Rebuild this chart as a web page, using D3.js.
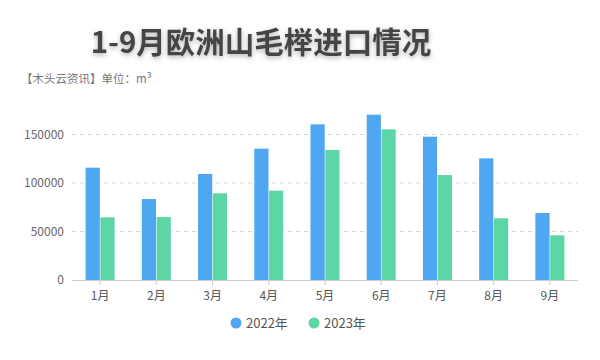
<!DOCTYPE html>
<html><head><meta charset="utf-8">
<script src="https://cdn.jsdelivr.net/npm/d3@7/dist/d3.min.js"></script>
<style>
html,body{margin:0;padding:0;background:#fff;}
svg{display:block;font-family:"Microsoft YaHei","Noto Sans CJK SC",sans-serif;}
</style></head>
<body><svg id="c" width="600" height="360"></svg>
<script>
const categories = ["1月","2月","3月","4月","5月","6月","7月","8月","9月"];
const seriesNames = ["2022年","2023年"];
const values2022 = [115800, 83500, 109300, 135400, 160500, 170400, 147700, 125400, 69100];
const values2023 = [64600, 64900, 89400, 92100, 134000, 155300, 108200, 63600, 46000];
const yTicks = [0, 50000, 100000, 150000];
const colors = ["#4fa7f1", "#5dd6a6"];

const svg = d3.select("#c");
const defs = svg.append("defs");
const f = defs.append("filter").attr("id","ts").attr("x","-10%").attr("y","-30%").attr("width","120%").attr("height","160%");
f.append("feDropShadow").attr("dx",0).attr("dy",2).attr("stdDeviation",2.5).attr("flood-color","#000").attr("flood-opacity",0.3);

svg.append("text").attr("x",261).attr("y",53).attr("text-anchor","middle")
  .attr("font-size",29.5).attr("font-weight","bold").attr("fill","#444").attr("filter","url(#ts)")
  .text("1-9月欧洲山毛榉进口情况");
svg.append("text").attr("x",21).attr("y",83).attr("font-size",11.5).attr("fill","#777")
  .text("【木头云资讯】单位：m³");

const x = d3.scaleBand().domain(categories).range([72, 578]);
const y = d3.scaleLinear().domain([0,150000]).range([280, 134.5]);
const inner = d3.scaleBand().domain(seriesNames).range([x.bandwidth()/2 - 14.5, x.bandwidth()/2 + 14.5]).paddingInner(0.04);

// grid
svg.append("g").selectAll("line").data(yTicks.filter(d=>d>0)).join("line")
  .attr("x1",72).attr("x2",578).attr("y1",d=>y(d)).attr("y2",d=>y(d))
  .attr("stroke","#d6d6d6").attr("stroke-dasharray","4,4");

// y labels
svg.append("g").selectAll("text").data(yTicks).join("text")
  .attr("x",64).attr("y",d=>y(d)).attr("dy","0.35em").attr("text-anchor","end")
  .attr("font-size",12).attr("fill","#666").text(d=>d);

// bars
const series = [values2022, values2023];
series.forEach((vals,i)=>{
  svg.append("g").selectAll("rect").data(vals).join("rect")
    .attr("x",(d,j)=>x(categories[j]) + inner(seriesNames[i]))
    .attr("width",inner.bandwidth())
    .attr("y",d=>y(d)).attr("height",d=>y(0)-y(d))
    .attr("fill",colors[i]);
});

// x axis
svg.append("line").attr("x1",72).attr("x2",578).attr("y1",280.5).attr("y2",280.5).attr("stroke","#ccc");
svg.append("g").selectAll("line").data(categories).join("line")
  .attr("x1",d=>x(d)+x.bandwidth()/2).attr("x2",d=>x(d)+x.bandwidth()/2)
  .attr("y1",280).attr("y2",285).attr("stroke","#ccc");
svg.append("g").selectAll("text").data(categories).join("text")
  .attr("x",d=>x(d)+x.bandwidth()/2).attr("y",300).attr("text-anchor","middle")
  .attr("font-size",12).attr("fill","#555").text(d=>d);

// legend
const lg = [{n:seriesNames[0],c:colors[0],x:236},{n:seriesNames[1],c:colors[1],x:314}];
const lgs = svg.append("g").selectAll("g").data(lg).join("g");
lgs.append("circle").attr("cx",d=>d.x).attr("cy",323).attr("r",5.5).attr("fill",d=>d.c);
lgs.append("text").attr("x",d=>d.x+10).attr("y",323).attr("dy","0.35em")
  .attr("font-size",13).attr("fill","#555").text(d=>d.n);
</script></body></html>
